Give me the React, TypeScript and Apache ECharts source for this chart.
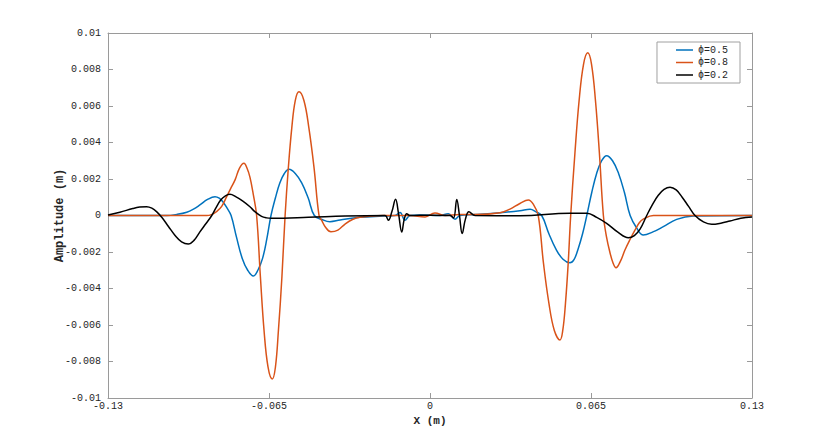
import React, { useEffect, useRef } from "react";
import * as echarts from "echarts";

// ---- data ----
const blueX = [-0.13, -0.1063, -0.1022, -0.0982, -0.0955, -0.0929, -0.0898, -0.0868, -0.0851, -0.0835, -0.0819, -0.0803, -0.0781, -0.0758, -0.0736, -0.0713, -0.0695, -0.0676, -0.0659, -0.0642, -0.0624, -0.0606, -0.0588, -0.0569, -0.0544, -0.0518, -0.0492, -0.0467, -0.0436, -0.0404, -0.0363, -0.0283, -0.019, -0.0141, -0.0121, -0.0101, -0.0081, -0.004, 0.004, 0.0074, 0.0101, 0.0121, 0.0182, 0.0283, 0.0363, 0.0404, 0.0428, 0.0451, 0.048, 0.0508, 0.0537, 0.0565, 0.0582, 0.0598, 0.0616, 0.0633, 0.0653, 0.0673, 0.0693, 0.0713, 0.0737, 0.0761, 0.0785, 0.0808, 0.0835, 0.0861, 0.09, 0.0942, 0.0996, 0.1062, 0.13];
const blueY = [0, 0, 0.00006, 0.00018, 0.00035, 0.00058, 0.00088, 0.00103, 0.00095, 0.00073, 0.0004, 0, -0.0012, -0.00235, -0.003, -0.00332, -0.003, -0.00235, -0.0013, 0, 0.00097, 0.00179, 0.0023, 0.00253, 0.0023, 0.00179, 0.00097, 0, -0.00022, -0.00034, -0.00025, -0.0001, -0.00003, 0, 0.00016, -0.00026, 0, 0.00003, 0, 0.0001, -0.0002, 0, 0.00005, 0.00015, 0.00026, 0.00034, 0.0002, 0, -0.001, -0.00183, -0.0024, -0.00259, -0.0024, -0.00183, -0.001, 0, 0.00126, 0.00232, 0.003, 0.00328, 0.003, 0.00232, 0.00126, 0, -0.0007, -0.00107, -0.0009, -0.00061, -0.00021, -0.00003, 0];

const orangeX = [-0.13, -0.095, -0.0902, -0.0882, -0.0862, -0.0841, -0.0821, -0.0804, -0.0787, -0.0769, -0.0751, -0.0739, -0.0727, -0.0714, -0.07, -0.0685, -0.067, -0.0654, -0.0637, -0.0624, -0.0612, -0.0598, -0.0585, -0.0572, -0.0558, -0.0544, -0.0529, -0.0509, -0.0489, -0.0468, -0.0448, -0.0436, -0.0424, -0.04, -0.0372, -0.0343, -0.0313, -0.0283, -0.019, -0.0081, -0.002, 0.002, 0.0061, 0.0121, 0.0182, 0.0283, 0.0323, 0.0363, 0.0397, 0.0418, 0.0437, 0.0458, 0.048, 0.0502, 0.0525, 0.0536, 0.0547, 0.0558, 0.0568, 0.0585, 0.0602, 0.062, 0.0637, 0.0652, 0.0668, 0.0684, 0.07, 0.0713, 0.0726, 0.0739, 0.0751, 0.0769, 0.0787, 0.0808, 0.0828, 0.0845, 0.0861, 0.0902, 0.13];
const orangeY = [0, 0, 0, 0.00005, 0.00021, 0.0005, 0.00103, 0.0015, 0.00195, 0.0026, 0.00286, 0.0026, 0.0021, 0.0012, 0, -0.0033, -0.0063, -0.0083, -0.00896, -0.0083, -0.0063, -0.0034, 0, 0.0026, 0.0048, 0.0063, 0.00678, 0.0063, 0.0048, 0.0026, 0, -0.0003, -0.0006, -0.00089, -0.0008, -0.00047, -0.00022, -0.0001, 0, 0, -0.00008, 0.00014, 0, 0.00005, 0.00005, 0.00015, 0.00035, 0.00066, 0.00085, 0.0006, 0, -0.0026, -0.0048, -0.0063, -0.00682, -0.0063, -0.0048, -0.0026, 0, 0.0034, 0.0063, 0.0083, 0.00892, 0.0083, 0.0063, 0.0034, 0, -0.0012, -0.002, -0.0026, -0.00286, -0.0025, -0.00189, -0.0013, -0.00079, -0.0004, -0.0002, 0, 0];

const blackX = [-0.13, -0.1252, -0.12, -0.1172, -0.1144, -0.1123, -0.1103, -0.1083, -0.1056, -0.103, -0.1003, -0.0976, -0.0952, -0.0929, -0.0905, -0.0881, -0.0863, -0.0845, -0.0826, -0.0808, -0.0783, -0.0757, -0.0727, -0.0707, -0.068, -0.066, -0.0639, -0.0491, -0.0343, -0.0182, -0.0168, -0.0154, -0.0139, -0.0127, -0.0114, -0.0104, -0.0094, -0.0081, 0, 0.0081, 0.0095, 0.0108, 0.0119, 0.013, 0.0143, 0.0157, 0.0182, 0.0363, 0.0565, 0.0633, 0.0673, 0.0713, 0.0757, 0.0801, 0.0825, 0.0848, 0.0875, 0.0898, 0.0921, 0.0945, 0.0969, 0.0994, 0.1018, 0.1044, 0.107, 0.1104, 0.1137, 0.1174, 0.1211, 0.1255, 0.13];
const blackY = [0.00003, 0.00018, 0.00038, 0.00046, 0.00048, 0.0004, 0.0002, -0.0001, -0.0006, -0.00108, -0.00144, -0.00156, -0.00135, -0.0009, -0.00045, 0, 0.00045, 0.00085, 0.00108, 0.00116, 0.00102, 0.0008, 0.00048, 0.00021, -0.00005, -0.00013, -0.00015, -0.0001, -0.00003, 0, -0.00026, 0.0002, 0.00089, 0.0001, -0.00091, -0.0002, 0.0001, 0, 0.00002, 0, -0.00014, 0.00088, 0, -0.00099, -0.0002, 0.0002, 0, -0.00001, 0.00012, 0.00012, -0.0001, -0.00043, -0.0009, -0.00122, -0.0011, -0.00075, 0, 0.0006, 0.0011, 0.00143, 0.00155, 0.0014, 0.001, 0.0005, 0, -0.00035, -0.00048, -0.00042, -0.0003, -0.00015, -0.00008];

const seriesNames = ["\u03D5=0.5", "\u03D5=0.8", "\u03D5=0.2"];
const seriesColors = ["#0072BD", "#D95319", "#000000"];

const xTicks = [-0.13, -0.065, 0, 0.065, 0.13];
const xTickLabels = ["-0.13", "-0.065", "0", "0.065", "0.13"];
const yTicks = [-0.01, -0.008, -0.006, -0.004, -0.002, 0, 0.002, 0.004, 0.006, 0.008, 0.01];
const yTickLabels = ["-0.01", "-0.008", "-0.006", "-0.004", "-0.002", "0", "0.002", "0.004", "0.006", "0.008", "0.01"];

const FONT = "'Liberation Mono', 'DejaVu Sans Mono', monospace";
const AXIS_COLOR = "#9a9a9a";
const TEXT_COLOR = "#262626";

function pick(ticks: number[], labels: string[], v: number) {
  const i = ticks.findIndex((t) => Math.abs(t - v) < 1e-9);
  return i >= 0 ? labels[i] : "";
}

function zip(xs: number[], ys: number[]) {
  return xs.map((x, i) => [x, ys[i]]);
}

export default function App() {
  const ref = useRef<HTMLDivElement>(null);
  useEffect(() => {
    if (!ref.current) return;
    const chart = echarts.init(ref.current, undefined, { renderer: "svg" });
    const axisCommon = {
      type: "value" as const,
      axisLine: { show: true, onZero: false, lineStyle: { color: AXIS_COLOR, width: 1 } },
      axisTick: { show: true, inside: true, length: 5, lineStyle: { color: AXIS_COLOR } },
      splitLine: { show: false },
    };
    const xs = [zip(blueX, blueY), zip(orangeX, orangeY), zip(blackX, blackY)];
    chart.setOption({
      animation: false,
      backgroundColor: "#ffffff",
      grid: { left: 108, right: 78, top: 33, bottom: 50, containLabel: false },
      legend: {
        data: seriesNames,
        orient: "vertical",
        right: 90,
        top: 42,
        icon: "rect",
        itemWidth: 17,
        itemHeight: 1.5,
        itemGap: 2.5,
        padding: [3, 12, 3, 19],
        backgroundColor: "#ffffff",
        borderColor: "#a0a0a0",
        borderWidth: 1,
        borderRadius: 0,
        textStyle: { fontFamily: FONT, fontSize: 10, color: TEXT_COLOR, lineHeight: 10 },
      },
      xAxis: [
        {
          ...axisCommon,
          min: -0.13,
          max: 0.13,
          interval: 0.065,
          position: "bottom",
          name: "X (m)",
          nameLocation: "middle",
          nameGap: 17,
          nameMoveOverlap: false,
          nameTextStyle: { fontFamily: FONT, fontSize: 11, fontWeight: "bold", color: TEXT_COLOR },
          axisLabel: {
            fontFamily: FONT,
            fontSize: 10,
            color: TEXT_COLOR,
            margin: 3,
            formatter: (v: number) => pick(xTicks, xTickLabels, v),
          },
        },
        {
          ...axisCommon,
          min: -0.13,
          max: 0.13,
          interval: 0.065,
          position: "top",
          axisLabel: { show: false },
        },
      ],
      yAxis: [
        {
          ...axisCommon,
          min: -0.01,
          max: 0.01,
          interval: 0.002,
          position: "left",
          name: "Amplitude (m)",
          nameLocation: "middle",
          nameGap: 42,
          nameMoveOverlap: false,
          nameTextStyle: { fontFamily: FONT, fontSize: 12, fontWeight: "bold", color: TEXT_COLOR },
          axisLabel: {
            fontFamily: FONT,
            fontSize: 10,
            color: TEXT_COLOR,
            margin: 7,
            formatter: (v: number) => pick(yTicks, yTickLabels, v),
          },
        },
        {
          ...axisCommon,
          min: -0.01,
          max: 0.01,
          interval: 0.002,
          position: "right",
          axisLabel: { show: false },
        },
      ],
      series: seriesNames.map((name, i) => ({
        name,
        type: "line",
        xAxisIndex: 0,
        yAxisIndex: 0,
        data: xs[i],
        showSymbol: false,
        symbol: "none",
        smooth: 0.4,
        color: seriesColors[i],
        lineStyle: { color: seriesColors[i], width: 1.5 },
        z: 2 + i,
      })),
    });
    return () => chart.dispose();
  }, []);
  return (
    <div
      ref={ref}
      style={{ position: "fixed", left: 0, top: 0, width: 830, height: 448, background: "#fff" }}
    />
  );
}
